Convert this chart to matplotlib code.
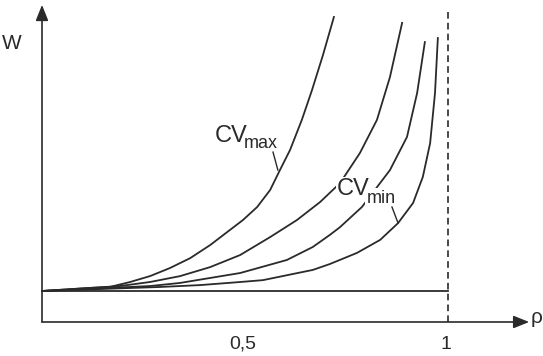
import numpy as np
import matplotlib.pyplot as plt

plt.rcParams['font.family'] = ['Liberation Sans', 'DejaVu Sans']

# ==========================================
# DATI (W in unita' arbitrarie, asse a 0, minimo = 1)
# ==========================================
rho_max = [0.0, 0.118, 0.167, 0.217, 0.266, 0.315, 0.365, 0.414, 0.463,
           0.495, 0.530, 0.562, 0.586, 0.611, 0.640, 0.665, 0.692, 0.719]
w_max   = [1.0, 1.10, 1.13, 1.29, 1.48, 1.74, 2.06, 2.48, 2.97,
           3.29, 3.71, 4.26, 4.90, 5.55, 6.52, 7.48, 8.61, 9.84]

rho_2 = [0.0, 0.192, 0.266, 0.340, 0.414, 0.488, 0.562, 0.628, 0.685,
         0.734, 0.783, 0.825, 0.857, 0.887]
w_2   = [1.0, 1.16, 1.29, 1.48, 1.77, 2.16, 2.74, 3.29, 3.87,
         4.48, 5.45, 6.52, 7.90, 9.65]

rho_3 = [0.0, 0.266, 0.340, 0.414, 0.488, 0.603, 0.667, 0.709, 0.734,
         0.788, 0.857, 0.899, 0.924, 0.943]
w_3   = [1.0, 1.16, 1.26, 1.42, 1.58, 2.00, 2.42, 2.81, 3.06,
         3.71, 4.90, 5.97, 7.39, 9.03]

rho_min = [0.0, 0.291, 0.389, 0.488, 0.544, 0.667, 0.709, 0.776, 0.833,
           0.877, 0.914, 0.938, 0.956, 0.968, 0.975]
w_min   = [1.0, 1.13, 1.19, 1.29, 1.35, 1.68, 1.87, 2.23, 2.65,
           3.19, 3.84, 4.68, 5.77, 7.39, 9.16]

curves = [(rho_max, w_max), (rho_2, w_2), (rho_3, w_3), (rho_min, w_min)]

x_ticks = [0.5, 1.0]
x_tick_labels = ['0,5', '1']
w_base = 1.0

INK = '#2a2a2a'

# ==========================================
# FIGURA
# ==========================================
fig = plt.figure(figsize=(5.43, 3.56), dpi=100)
ax = fig.add_axes([0, 0, 1, 1])
ax.set_xlim(-42 / 406, 501 / 406)
ax.set_ylim(-34 / 31, 322 / 31)
ax.axis('off')

# assi con frecce
arrow = dict(arrowstyle='-|>,head_length=0.95,head_width=0.38',
             color=INK, lw=1.2, shrinkA=0, shrinkB=0)
ax.annotate('', xy=(0, 10.23), xytext=(0, 0), arrowprops=arrow)
ax.annotate('', xy=(1.20, 0), xytext=(0, 0), arrowprops=arrow)

# linea di base e asintoto rho = 1
ax.plot([0, 1], [w_base, w_base], color=INK, lw=1.3)
ax.plot([1, 1], [0, 10.06], color=INK, lw=1.2, linestyle=(0, (4, 2.5)))

for rho, w in curves:
    ax.plot(rho, w, color=INK, lw=1.3, solid_joinstyle='round')

# etichette
ax.text(-0.074, 9.0, 'W', fontsize=15, color=INK, ha='center', va='center')
ax.text(1.217, 0.13, 'ρ', fontsize=15, color=INK, ha='center', va='center')
for t, lab in zip(x_ticks, x_tick_labels):
    ax.text(t - 0.005, -0.71, lab, fontsize=14, color=INK, ha='center', va='center')

# CV max
ax.text(0.426, 5.81, 'CV', fontsize=17, color=INK, ha='left', va='baseline')
ax.text(0.496, 5.61, 'max', fontsize=13, color=INK, ha='left', va='baseline')
ax.plot([0.569, 0.581], [5.48, 4.90], color=INK, lw=1.0)

# CV min (fondo bianco per interrompere la curva)
ax.text(0.727, 4.10, 'CV', fontsize=17, color=INK, ha='left', va='baseline',
        zorder=5, bbox=dict(fc='white', ec='none', pad=0.5))
ax.text(0.800, 3.84, 'min', fontsize=13, color=INK, ha='left', va='baseline',
        zorder=5, bbox=dict(fc='white', ec='none', pad=1.5))
ax.plot([0.862, 0.877], [3.71, 3.19], color=INK, lw=1.0, zorder=6)

fig.savefig('out.png', dpi=100, facecolor='white')
